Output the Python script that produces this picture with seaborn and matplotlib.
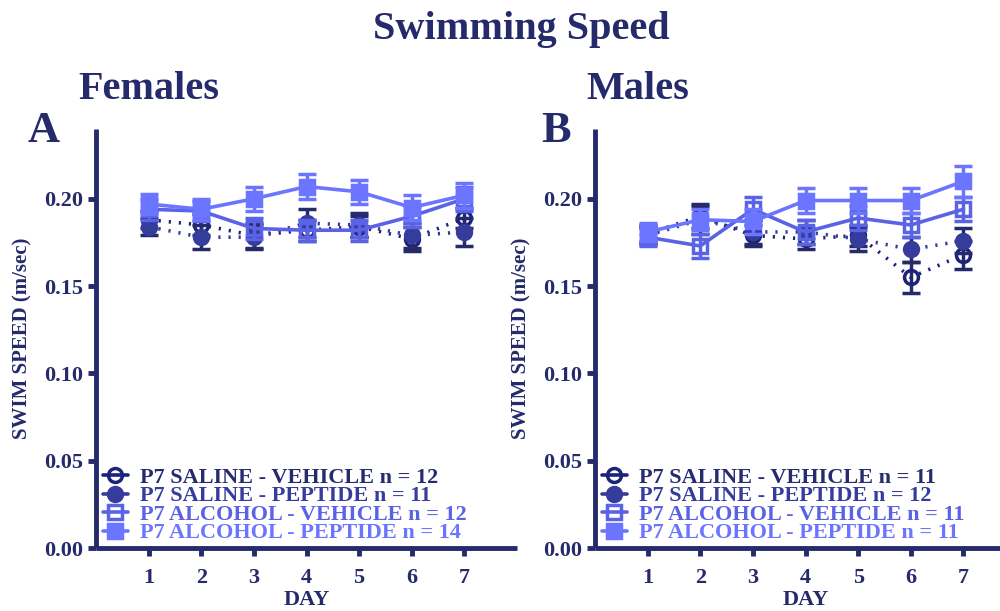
import numpy as np
import pandas as pd
import matplotlib
matplotlib.use("Agg")
import matplotlib.pyplot as plt
import seaborn as sns
from matplotlib.lines import Line2D

sns.set_theme(style="white")
plt.rcParams["font.family"] = ["Liberation Serif", "DejaVu Serif"]
plt.rcParams["font.weight"] = "bold"

days = [1, 2, 3, 4, 5, 6, 7]
groups = ["P7 SALINE - VEHICLE", "P7 SALINE - PEPTIDE",
          "P7 ALCOHOL - VEHICLE", "P7 ALCOHOL - PEPTIDE"]

# Females: mean swim speed (m/sec) and SEM per day
fem_sal_veh = [0.188, 0.185, 0.179, 0.182, 0.184, 0.177, 0.189]
fem_sal_pep = [0.184, 0.178, 0.178, 0.186, 0.185, 0.179, 0.181]
fem_alc_veh = [0.194, 0.193, 0.183, 0.182, 0.182, 0.190, 0.200]
fem_alc_pep = [0.197, 0.194, 0.200, 0.207, 0.204, 0.195, 0.202]
fem_sal_veh_sem = [0.005, 0.006, 0.007, 0.006, 0.006, 0.007, 0.006]
fem_sal_pep_sem = [0.005, 0.007, 0.007, 0.008, 0.007, 0.007, 0.008]
fem_alc_veh_sem = [0.006, 0.006, 0.006, 0.006, 0.006, 0.006, 0.007]
fem_alc_pep_sem = [0.006, 0.006, 0.007, 0.007, 0.007, 0.007, 0.007]
fem_n = [12, 11, 12, 14]

# Males: mean swim speed (m/sec) and SEM per day
mal_sal_veh = [0.180, 0.190, 0.179, 0.177, 0.179, 0.155, 0.168]
mal_sal_pep = [0.179, 0.188, 0.181, 0.181, 0.177, 0.171, 0.176]
mal_alc_veh = [0.178, 0.173, 0.194, 0.181, 0.189, 0.185, 0.194]
mal_alc_pep = [0.181, 0.188, 0.187, 0.199, 0.199, 0.199, 0.210]
mal_sal_veh_sem = [0.005, 0.007, 0.006, 0.006, 0.006, 0.009, 0.008]
mal_sal_pep_sem = [0.005, 0.008, 0.007, 0.007, 0.007, 0.007, 0.007]
mal_alc_veh_sem = [0.005, 0.007, 0.007, 0.007, 0.007, 0.007, 0.007]
mal_alc_pep_sem = [0.005, 0.006, 0.007, 0.007, 0.007, 0.007, 0.009]
mal_n = [11, 12, 11, 11]

navy = "#252a6b"
colors = ["#1c2479", "#363c9c", "#5a62e6", "#6c75ff"]
text_colors = ["#262b6e", "#363c9c", "#5a62e6", "#6c75ff"]
markers = ["o", "o", "s", "s"]
filled = [False, True, False, True]
dotted = (0, (0.6, 2.2))
linestyles = [dotted, dotted, "-", "-"]


def build_frame(means, sems):
    rows = []
    for g, m, s in zip(groups, means, sems):
        for d, v, e in zip(days, m, s):
            rows.append({"group": g, "day": d, "speed": v, "sem": e})
    return pd.DataFrame(rows)


def draw_panel(ax, df, ns):
    for i, g in enumerate(groups):
        sub = df[df["group"] == g]
        ax.errorbar(sub["day"], sub["speed"], yerr=sub["sem"], fmt="none",
                    ecolor=colors[i] if i >= 2 else navy, elinewidth=2.5,
                    capsize=6.5, capthick=2.5, zorder=2 + i)
        sns.lineplot(data=sub, x="day", y="speed", ax=ax, color=colors[i],
                     lw=2.6, linestyle=linestyles[i], marker=markers[i],
                     markersize=10,
                     markerfacecolor=colors[i] if filled[i] else "none",
                     markeredgecolor=colors[i], markeredgewidth=2.5,
                     errorbar=None, legend=False, zorder=3 + i)
    handles = []
    for i, g in enumerate(groups):
        handles.append(Line2D([0], [0], color=colors[i], lw=2.6,
                              marker=markers[i], markersize=10,
                              markerfacecolor=colors[i] if filled[i] else "none",
                              markeredgecolor=colors[i], markeredgewidth=2.5))
    labels = [f"{g} n = {n}" for g, n in zip(groups, ns)]
    leg = ax.legend(handles, labels, loc="lower left", bbox_to_anchor=(-0.012, -0.018),
                    frameon=False, fontsize=16, handlelength=1.1, handletextpad=0.55,
                    labelspacing=-0.09, borderaxespad=0.15)
    for t, c in zip(leg.get_texts(), text_colors):
        t.set_color(c)
        t.set_fontweight("bold")

    ax.set_xlim(0, 8)
    ax.set_ylim(0, 0.24)
    ax.set_xticks(days)
    ax.set_yticks([0.0, 0.05, 0.10, 0.15, 0.20])
    ax.set_yticklabels(["0.00", "0.05", "0.10", "0.15", "0.20"])
    ax.set_xlabel("DAY", fontsize=16, fontweight="bold", color=navy, labelpad=1.5)
    ax.set_ylabel("SWIM SPEED (m/sec)", fontsize=15, fontweight="bold",
                  color=navy, labelpad=9)
    for side in ["top", "right"]:
        ax.spines[side].set_visible(False)
    for side in ["left", "bottom"]:
        ax.spines[side].set_linewidth(3.5)
        ax.spines[side].set_color(navy)
        ax.spines[side].set_capstyle("butt")
    ax.tick_params(axis="both", which="major", length=6, width=3.5,
                   color=navy, labelcolor=navy, labelsize=16, direction="out",
                   left=True, bottom=True)
    ax.tick_params(axis="x", pad=8)
    ax.tick_params(axis="y", pad=3)
    for lab in ax.get_xticklabels() + ax.get_yticklabels():
        lab.set_fontweight("bold")
    ax.grid(False)


fig = plt.figure(figsize=(10, 6.11), dpi=100)
ax_f = fig.add_axes([0.096, 0.103, 0.421, 0.686])
ax_m = fig.add_axes([0.595, 0.103, 0.421, 0.686])

draw_panel(ax_f, build_frame([fem_sal_veh, fem_sal_pep, fem_alc_veh, fem_alc_pep],
                             [fem_sal_veh_sem, fem_sal_pep_sem, fem_alc_veh_sem, fem_alc_pep_sem]),
           fem_n)
draw_panel(ax_m, build_frame([mal_sal_veh, mal_sal_pep, mal_alc_veh, mal_alc_pep],
                             [mal_sal_veh_sem, mal_sal_pep_sem, mal_alc_veh_sem, mal_alc_pep_sem]),
           mal_n)

fig.text(0.521, 0.951, "Swimming Speed", ha="center", va="center",
         fontsize=29, fontweight="bold", color=navy)
fig.text(0.078, 0.853, "Females", ha="left", va="center", fontsize=29,
         fontweight="bold", color=navy)
fig.text(0.586, 0.853, "Males", ha="left", va="center", fontsize=29,
         fontweight="bold", color=navy)
fig.text(0.028, 0.786, "A", ha="left", va="center", fontsize=32,
         fontweight="bold", color=navy)
fig.text(0.541, 0.786, "B", ha="left", va="center", fontsize=32,
         fontweight="bold", color=navy)

fig.savefig("out.png", dpi=100)
